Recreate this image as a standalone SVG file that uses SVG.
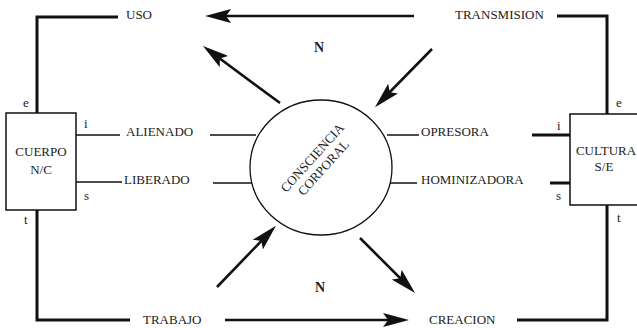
<svg xmlns="http://www.w3.org/2000/svg" width="637" height="328" viewBox="0 0 637 328">
<style>
text{font-family:"Liberation Serif","Times New Roman","DejaVu Serif","Noto Serif",serif;font-size:13px;fill:#222}
.n{font-weight:bold;font-size:14px;text-anchor:middle}
.c{text-anchor:middle}
.frame{fill:none;stroke:#111;stroke-width:3}
.thin{fill:none;stroke:#111;stroke-width:1.5}
.arr{fill:none;stroke:#111;stroke-width:2.6;marker-end:url(#ah)}
.box{fill:#fff;stroke:#111;stroke-width:1.5}
</style>
<defs>
<marker id="ah" markerUnits="userSpaceOnUse" markerWidth="26" markerHeight="14" viewBox="0 0 26 14" refX="16" refY="7" orient="auto">
<path d="M0,0 L26,7 L0,14 L5,7 z" fill="#111"/>
</marker>
</defs>
<rect width="637" height="328" fill="#fff"/>
<g id="connectors">
<path class="frame" d="M118,17 H37 V113"/>
<path class="frame" d="M37,210 V320 H130"/>
<path class="frame" d="M557,16 H607 V114"/>
<path class="frame" d="M607,205 V320 H517"/>
<line class="frame" x1="532" y1="135" x2="570" y2="135"/>
<line class="frame" x1="550" y1="183" x2="570" y2="183"/>
<line class="thin" x1="76" y1="135" x2="120" y2="135"/>
<line class="thin" x1="76" y1="182" x2="122" y2="182"/>
<line class="thin" x1="210" y1="135" x2="256" y2="135"/>
<line class="thin" x1="213" y1="183" x2="256" y2="183"/>
<line class="thin" x1="387" y1="135" x2="419" y2="135"/>
<line class="thin" x1="389" y1="183" x2="417" y2="183"/>
<line class="arr" x1="414" y1="16" x2="215" y2="16"/>
<line class="arr" x1="280" y1="103" x2="211" y2="52"/>
<line class="arr" x1="432" y1="49" x2="382" y2="100"/>
<line class="arr" x1="217" y1="287" x2="269" y2="233"/>
<line class="arr" x1="360" y1="238" x2="408" y2="286"/>
<line class="arr" x1="225" y1="320" x2="399" y2="320"/>
</g>
<g id="cuerpo">
<rect class="box" x="6" y="113" width="70" height="97"/>
<text class="c" x="41" y="156">CUERPO</text>
<text class="c" x="41" y="174">N/C</text>
<text x="23" y="107">e</text>
<text x="84" y="128">i</text>
<text x="84" y="200">s</text>
<text x="24" y="224">t</text>
</g>
<g id="cultura">
<rect class="box" x="570" y="114" width="72" height="91"/>
<text class="c" x="606" y="155">CULTURA</text>
<text class="c" x="604" y="171">S/E</text>
<text x="557" y="130">i</text>
<text x="556" y="200">s</text>
<text x="616" y="107">e</text>
<text x="617" y="222">t</text>
</g>
<g id="consciencia">
<ellipse cx="321" cy="167.5" rx="71" ry="67.5" fill="#fff" stroke="#111" stroke-width="1.3"/>
<g transform="translate(317,162) rotate(-48)">
<text class="c" x="0" y="-2">CONSCIENCIA</text>
<text class="c" x="0" y="13">CORPORAL</text>
</g>
</g>
<g id="labels">
<text x="126" y="19">USO</text>
<text x="455" y="19">TRANSMISION</text>
<text x="126" y="136">ALIENADO</text>
<text x="124" y="184">LIBERADO</text>
<text x="421" y="136">OPRESORA</text>
<text x="421" y="184">HOMINIZADORA</text>
<text x="143" y="324">TRABAJO</text>
<text x="429" y="324">CREACION</text>
<text class="n" x="319" y="52">N</text>
<text class="n" x="320" y="292">N</text>
</g>
</svg>
